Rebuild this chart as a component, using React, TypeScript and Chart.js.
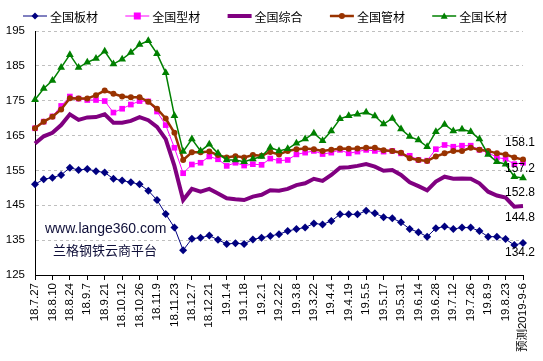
import React, { useEffect, useRef } from "react";
import { Chart, registerables } from "chart.js";

Chart.register(...registerables);

const categories = [
  "18.7.27", "18.8.3", "18.8.10", "18.8.17", "18.8.24", "18.8.31", "18.9.7", "18.9.14", "18.9.21", "18.9.28",
  "18.10.12", "18.10.19", "18.10.26", "18.11.2", "18.11.9", "18.11.16", "18.11.23", "18.11.30", "18.12.7", "18.12.14",
  "18.12.21", "18.12.28", "19.1.4", "19.1.11", "19.1.18", "19.1.25", "19.2.1", "19.2.15", "19.2.22", "19.3.1",
  "19.3.8", "19.3.15", "19.3.22", "19.3.29", "19.4.4", "19.4.12", "19.4.19", "19.4.26", "19.5.5", "19.5.10",
  "19.5.17", "19.5.24", "19.5.31", "19.6.6", "19.6.14", "19.6.21", "19.6.28", "19.7.5", "19.7.12", "19.7.19",
  "19.7.26", "19.8.2", "19.8.9", "19.8.16", "19.8.23", "19.8.30", "预测2019-9-6",
];

const seriesNames = ["全国板材", "全国型材", "全国综合", "全国管材", "全国长材"];

const plateValues = [
  151.0, 152.5, 152.9, 153.7, 155.8, 155.1, 155.4, 154.8, 154.4, 152.6,
  152.1, 151.6, 151.0, 149.2, 146.5, 142.5, 138.6, 132.1, 135.4, 135.7,
  136.3, 135.1, 133.9, 134.1, 133.9, 135.2, 135.7, 136.2, 136.7, 137.6,
  138.2, 138.6, 139.8, 139.5, 140.5, 142.4, 142.4, 142.4, 143.4, 142.7,
  141.6, 141.3, 140.1, 138.2, 137.3, 136.0, 138.4, 138.9, 138.2, 138.6,
  138.6, 137.6, 136.0, 136.0, 135.3, 133.6, 134.2,
];

const sectionValues = [
  167.1, 169.0, 170.5, 173.5, 176.2, 175.6, 175.2, 175.2, 174.9, 171.6,
  172.7, 173.9, 174.9, 174.8, 171.9, 168.0, 161.5, 154.2, 156.7, 157.2,
  159.0, 158.2, 156.3, 157.2, 156.4, 156.8, 156.6, 158.4, 157.8, 158.0,
  159.6, 160.1, 160.6, 159.7, 160.1, 160.9, 159.9, 160.4, 160.9, 160.6,
  160.4, 160.6, 159.9, 159.2, 158.0, 157.8, 161.1, 162.3, 161.8, 162.1,
  162.1, 160.9, 160.2, 158.7, 158.3, 156.8, 157.2,
];

const compositeValues = [
  162.7, 164.8, 165.8, 168.0, 171.1, 169.5, 170.2, 170.3, 171.1, 168.7,
  168.7, 169.2, 170.3, 169.4, 167.5, 164.0, 156.3, 146.5, 149.7, 148.9,
  149.7, 148.4, 147.0, 146.7, 146.5, 147.5, 148.0, 149.3, 149.2, 149.7,
  150.8, 151.3, 152.6, 152.0, 153.7, 155.8, 155.9, 156.3, 156.8, 156.1,
  154.9, 155.1, 153.7, 151.6, 150.5, 149.3, 151.8, 153.2, 152.6, 152.7,
  152.6, 151.3, 148.9, 147.8, 147.2, 144.6, 144.8,
];

const pipeValues = [
  167.1, 169.0, 170.4, 172.5, 175.7, 175.6, 175.6, 176.6, 177.9, 177.0,
  176.2, 176.0, 176.0, 174.7, 172.7, 169.9, 165.8, 158.0, 160.2, 160.2,
  160.4, 159.4, 158.7, 159.1, 158.7, 159.4, 159.2, 160.3, 159.6, 160.6,
  161.1, 161.3, 161.1, 160.6, 160.9, 161.3, 161.2, 161.3, 161.5, 161.5,
  160.8, 160.6, 160.1, 158.5, 158.0, 157.7, 159.0, 159.9, 160.6, 160.6,
  161.5, 160.9, 160.6, 159.9, 159.6, 158.7, 158.1,
];

const longValues = [
  175.3, 178.5, 180.8, 184.5, 188.2, 184.5, 186.0, 187.1, 189.2, 185.5,
  186.9, 188.8, 191.1, 192.2, 188.5, 183.0, 170.7, 160.4, 164.0, 160.6,
  162.5, 159.9, 158.0, 158.0, 157.5, 158.3, 159.0, 161.6, 160.6, 161.2,
  162.8, 164.0, 165.7, 163.5, 166.3, 169.8, 170.7, 171.1, 171.7, 170.6,
  168.3, 169.9, 166.9, 164.7, 163.7, 161.8, 166.1, 168.2, 166.3, 166.8,
  166.1, 164.0, 159.6, 157.5, 156.8, 153.2, 152.8,
];

const yMin = 125;
const yMax = 195;
const yStep = 10;

const watermarkLines = ["www.lange360.com", "兰格钢铁云商平台"];

const LATIN = "'Liberation Sans', Arial, 'Noto Sans CJK SC', sans-serif";
const CJK = "'Noto Sans CJK SC', 'Liberation Sans', sans-serif";

type Style = {
  color: string;
  width: number;
  marker: "diamond" | "square" | "none" | "circle" | "triangle";
  radius: number;
  labelDy: number;
};

const styles: Style[] = [
  { color: "#000080", width: 1, marker: "diamond", radius: 4, labelDy: 10 },
  { color: "#FF00FF", width: 1, marker: "square", radius: 4, labelDy: 5.5 },
  { color: "#800080", width: 4, marker: "none", radius: 0, labelDy: 12 },
  { color: "#993300", width: 2.5, marker: "circle", radius: 3, labelDy: -17 },
  { color: "#008000", width: 1.5, marker: "triangle", radius: 4.5, labelDy: 15 },
];

const pointStyleMap: Record<string, string> = {
  diamond: "rectRot",
  square: "rect",
  none: "circle",
  circle: "circle",
  triangle: "triangle",
};

function drawMarker(ctx: CanvasRenderingContext2D, kind: string, x: number, y: number, r: number, color: string) {
  ctx.save();
  ctx.fillStyle = color;
  ctx.beginPath();
  if (kind === "diamond") {
    ctx.moveTo(x, y - r);
    ctx.lineTo(x + r, y);
    ctx.lineTo(x, y + r);
    ctx.lineTo(x - r, y);
    ctx.closePath();
  } else if (kind === "square") {
    ctx.rect(x - r, y - r, r * 2, r * 2);
  } else if (kind === "circle") {
    ctx.arc(x, y, r, 0, Math.PI * 2);
  } else if (kind === "triangle") {
    ctx.moveTo(x, y - r);
    ctx.lineTo(x + r, y + r * 0.8);
    ctx.lineTo(x - r, y + r * 0.8);
    ctx.closePath();
  } else {
    ctx.restore();
    return;
  }
  ctx.fill();
  ctx.restore();
}

const legendPlugin = {
  id: "customLegend",
  afterDraw(chart: any) {
    const ctx: CanvasRenderingContext2D = chart.ctx;
    const y = 16;
    const startX = 23;
    const step = 102.3;
    chart.data.datasets.forEach((ds: any, i: number) => {
      const st = styles[i];
      const x0 = startX + step * i;
      ctx.save();
      ctx.strokeStyle = st.color;
      ctx.lineWidth = st.width;
      ctx.beginPath();
      ctx.moveTo(x0, y);
      ctx.lineTo(x0 + 24, y);
      ctx.stroke();
      drawMarker(ctx, st.marker, x0 + 12, y, Math.min(st.radius, 3.5), st.color);
      ctx.fillStyle = "#000";
      ctx.font = "12px " + CJK;
      ctx.textBaseline = "middle";
      ctx.textAlign = "left";
      ctx.fillText(ds.label, x0 + 27, y + 1);
      ctx.restore();
    });
  },
};

const watermarkPlugin = {
  id: "watermark",
  beforeDatasetsDraw(chart: any) {
    const ctx: CanvasRenderingContext2D = chart.ctx;
    ctx.save();
    ctx.fillStyle = "#10103a";
    ctx.textBaseline = "middle";
    ctx.textAlign = "left";
    ctx.font = "14px " + LATIN;
    ctx.fillText(watermarkLines[0], 45, 229);
    ctx.font = "13px " + CJK;
    ctx.fillText(watermarkLines[1], 53, 250);
    ctx.restore();
  },
};

const endLabelPlugin = {
  id: "endLabels",
  afterDatasetsDraw(chart: any) {
    const ctx: CanvasRenderingContext2D = chart.ctx;
    ctx.save();
    ctx.font = "12px " + LATIN;
    ctx.fillStyle = "#000";
    ctx.textAlign = "center";
    ctx.textBaseline = "middle";
    chart.data.datasets.forEach((ds: any, i: number) => {
      const meta = chart.getDatasetMeta(i);
      const last = meta.data[meta.data.length - 1];
      const v = ds.data[ds.data.length - 1];
      ctx.fillText(Number(v).toFixed(1), last.x - 3, last.y + styles[i].labelDy);
    });
    ctx.restore();
  },
};

export default function App() {
  const ref = useRef<HTMLCanvasElement | null>(null);

  useEffect(() => {
    if (!ref.current) return;
    const seriesData = [plateValues, sectionValues, compositeValues, pipeValues, longValues];
    const drawOrder = [5, 4, 3, 2, 1];
    const chart = new Chart(ref.current, {
      type: "line",
      data: {
        labels: categories,
        datasets: seriesNames.map((name, i) => ({
          label: name,
          data: seriesData[i],
          borderColor: styles[i].color,
          backgroundColor: styles[i].color,
          borderWidth: styles[i].width,
          pointStyle: pointStyleMap[styles[i].marker] as any,
          pointRadius: styles[i].radius,
          pointHoverRadius: styles[i].radius,
          pointBackgroundColor: styles[i].color,
          pointBorderColor: styles[i].color,
          pointBorderWidth: 0,
          tension: 0,
          fill: false,
          order: drawOrder[i],
        })),
      },
      options: {
        responsive: false,
        animation: false,
        events: [],
        layout: { padding: { left: 0, right: 20, top: 31, bottom: 0 } },
        plugins: {
          legend: { display: false },
          tooltip: { enabled: false },
          title: { display: false },
        },
        scales: {
          x: {
            type: "category",
            offset: false,
            border: { display: true, color: "#000", width: 1 },
            grid: {
              drawOnChartArea: false,
              drawTicks: true,
              tickLength: 5,
              color: (c: any) => (c.index % 2 === 0 ? "#000" : "rgba(0,0,0,0)"),
            },
            ticks: {
              autoSkip: false,
              maxRotation: 90,
              minRotation: 90,
              padding: 3,
              color: "#000",
              font: { family: LATIN, size: 11.5 },
              callback: (_v: any, idx: number) => (idx % 2 === 0 ? categories[idx] : ""),
            },
            afterFit: (scale: any) => {
              scale.height = 86;
            },
          },
          y: {
            min: yMin,
            max: yMax,
            border: { display: true, color: "#000", width: 1, dash: [3, 3] },
            grid: {
              drawTicks: false,
              color: (c: any) => (c.tick && c.tick.value === yMin ? "rgba(0,0,0,0)" : "#bfbfbf"),
              lineWidth: 1,
            },
            ticks: {
              stepSize: yStep,
              padding: 10,
              color: "#000",
              font: { family: LATIN, size: 11.5 },
            },
            afterFit: (scale: any) => {
              scale.width = 35;
            },
          } as any,
        },
      },
      plugins: [watermarkPlugin, endLabelPlugin, legendPlugin],
    });
    return () => chart.destroy();
  }, []);

  return (
    <div style={{ position: "fixed", left: 0, top: 0, width: 543, height: 361, background: "#fff" }}>
      <canvas ref={ref} width={543} height={361} style={{ width: 543, height: 361, display: "block" }} />
    </div>
  );
}
